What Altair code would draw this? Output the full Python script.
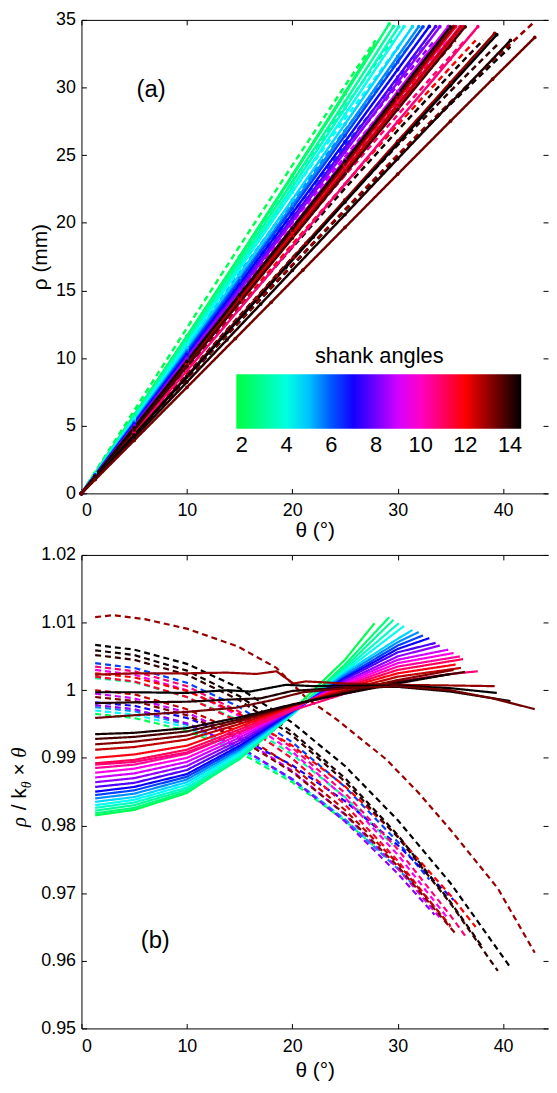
import altair as alt
import pandas as pd

# ---------------- data ----------------
# shank angle of every measured series (colour)
SHANK = [
    2.0, 3.0, 4.4, 5.5, 6.2, 7.0, 8.3, 9.0, 9.6, 10.8, 11.5, 12.0, 12.6, 13.2,
    14.5, 14.3, 14.0, 13.0,
    2.0, 2.5, 3.0, 3.6, 4.2, 4.8, 5.5, 6.2, 6.9, 7.6, 8.3, 9.0, 9.7, 10.4,
    10.8, 11.1, 11.8, 12.6, 13.2, 13.8, 14.3,
    13.0, 14.5, 14.2, 13.4,
]
# measurement kind of every series: "A" (solid curves), "B" (dashed curves)
KIND = ["B"] * 18 + ["A"] * 25
# fitted slope k_theta (mm / degree) of every series
K_THETA = [
    1.229, 1.162, 1.129, 1.095, 1.044, 0.979, 1.034, 1.014, 0.996, 0.955, 0.992, 0.928, 0.992, 0.979,
    0.846, 0.914, 0.877, 0.844,
    1.180, 1.176, 1.154, 1.135, 1.117, 1.089, 1.069, 1.056, 1.038, 1.020, 1.008, 0.986, 0.972, 0.956,
    0.915, 0.949, 0.968, 0.955, 0.974, 0.945, 0.983,
    0.867, 0.861, 0.824, 0.786,
]
# theta samples (degrees) of every series
THETA = [
    [1.3, 5, 10, 15, 20, 25, 27.9],
    [1.3, 5, 10, 15, 20, 25, 29.5],
    [1.3, 5, 10, 15, 20, 25, 30.5],
    [1.3, 5, 10, 15, 20, 25, 30, 31.5],
    [1.3, 5, 10, 15, 20, 25, 30, 33.0],
    [1.3, 5, 10, 15, 20, 25, 30, 35.3],
    [1.3, 5, 10, 15, 20, 25, 30, 33.5],
    [1.3, 5, 10, 15, 20, 25, 30, 34.2],
    [1.3, 5, 10, 15, 20, 25, 30, 34.8],
    [1.3, 5, 10, 15, 20, 25, 30, 35, 36.4],
    [1.3, 5, 10, 15, 20, 25, 30, 35.0],
    [1.3, 5, 10, 15, 20, 25, 30, 35, 37.4],
    [1.3, 5, 10, 15, 20, 25, 30, 35.0],
    [1.3, 5, 10, 15, 20, 25, 30, 35.5],
    [1.3, 5, 10, 15, 20, 25, 30, 35, 40.7],
    [1.3, 5, 10, 15, 20, 25, 30, 35, 38.1],
    [1.3, 5, 10, 15, 20, 25, 30, 35, 39.5],
    [1.3, 3, 6, 10, 14.8, 18.5, 21.3, 24.2, 28.9, 32, 35.2, 39.5, 43.0],
    [1.3, 5, 10, 15, 20, 25, 27.8],
    [1.3, 5, 10, 15, 20, 25, 29.2],
    [1.3, 5, 10, 15, 20, 25, 29.6],
    [1.3, 5, 10, 15, 20, 25, 30.1],
    [1.3, 5, 10, 15, 20, 25, 30.6],
    [1.3, 5, 10, 15, 20, 25, 30, 31.4],
    [1.3, 5, 10, 15, 20, 25, 30, 32.0],
    [1.3, 5, 10, 15, 20, 25, 30, 32.4],
    [1.3, 5, 10, 15, 20, 25, 30, 33.0],
    [1.3, 5, 10, 15, 20, 25, 30, 33.6],
    [1.3, 5, 10, 15, 20, 25, 30, 34.0],
    [1.3, 5, 10, 15, 20, 25, 30, 34.8],
    [1.3, 5, 10, 15, 20, 25, 30, 35.3],
    [1.3, 5, 10, 15, 20, 25, 30, 35.9],
    [1.3, 5, 10, 15, 20, 25, 30, 35, 37.6],
    [1.3, 5, 10, 15, 20, 25, 30, 36.2],
    [1.3, 5, 10, 15, 20, 25, 30, 35.5],
    [1.3, 5, 10, 15, 20, 25, 30, 36.0],
    [1.3, 5, 10, 15, 20, 25, 30, 35.3],
    [1.3, 5, 10, 15, 20, 25, 30, 36.4],
    [1.3, 5, 10, 15, 20, 25, 30, 35.0],
    [1.3, 5, 10, 13.8, 16.6, 18.5, 20.1, 21.3, 25, 30, 35, 39.2],
    [1.3, 5, 10, 13.8, 16, 19.4, 22, 25, 30, 35, 39.4],
    [1.3, 5, 10, 13.8, 17, 20, 25, 30, 35, 40.7],
    [1.3, 5, 10, 14.6, 18, 21, 25, 30, 35, 39, 43.0],
]
# rho / (k_theta * theta) at those samples
RATIO = [
    [0.9965, 0.9959, 0.9940, 0.9908, 0.9864, 0.9807, 0.9768],
    [1.0018, 1.0012, 0.9990, 0.9955, 0.9905, 0.9842, 0.9772],
    [0.9970, 0.9964, 0.9945, 0.9912, 0.9867, 0.9809, 0.9730],
    [0.9975, 0.9969, 0.9949, 0.9916, 0.9869, 0.9809, 0.9736, 0.9712],
    [1.0040, 1.0033, 1.0011, 0.9975, 0.9923, 0.9857, 0.9776, 0.9720],
    [0.9982, 0.9977, 0.9959, 0.9930, 0.9889, 0.9836, 0.9771, 0.9690],
    [0.9978, 0.9972, 0.9951, 0.9916, 0.9868, 0.9806, 0.9729, 0.9668],
    [0.9995, 0.9988, 0.9967, 0.9931, 0.9881, 0.9816, 0.9737, 0.9660],
    [1.0030, 1.0023, 1.0000, 0.9962, 0.9909, 0.9841, 0.9757, 0.9662],
    [1.0035, 1.0028, 1.0006, 0.9968, 0.9915, 0.9848, 0.9765, 0.9667, 0.9637],
    [1.0020, 1.0013, 0.9990, 0.9953, 0.9899, 0.9831, 0.9748, 0.9650],
    [1.0025, 1.0019, 0.9999, 0.9965, 0.9918, 0.9858, 0.9784, 0.9697, 0.9650],
    [1.0000, 0.9994, 0.9972, 0.9937, 0.9887, 0.9823, 0.9744, 0.9652],
    [0.9990, 0.9984, 0.9963, 0.9928, 0.9879, 0.9817, 0.9740, 0.9640],
    [1.0067, 1.0060, 1.0039, 1.0003, 0.9952, 0.9888, 0.9808, 0.9715, 0.9590],
    [1.0059, 1.0052, 1.0029, 0.9991, 0.9938, 0.9870, 0.9786, 0.9687, 0.9619],
    [1.0052, 1.0045, 1.0023, 0.9985, 0.9933, 0.9865, 0.9783, 0.9685, 0.9585],
    [1.0108, 1.0111, 1.0105, 1.0091, 1.0065, 1.0033, 0.9989, 0.9957, 0.9898, 0.9848, 0.9790, 0.9707, 0.9612],
    [0.9815, 0.9823, 0.9848, 0.9900, 0.9970, 1.0045, 1.0099],
    [0.9818, 0.9826, 0.9850, 0.9898, 0.9965, 1.0038, 1.0108],
    [0.9822, 0.9830, 0.9853, 0.9900, 0.9964, 1.0034, 1.0104],
    [0.9826, 0.9834, 0.9856, 0.9903, 0.9964, 1.0031, 1.0099],
    [0.9830, 0.9838, 0.9860, 0.9906, 0.9965, 1.0028, 1.0095],
    [0.9835, 0.9842, 0.9864, 0.9909, 0.9966, 1.0026, 1.0076, 1.0089],
    [0.9840, 0.9847, 0.9868, 0.9912, 0.9967, 1.0023, 1.0071, 1.0086],
    [0.9845, 0.9852, 0.9872, 0.9915, 0.9968, 1.0020, 1.0066, 1.0081],
    [0.9850, 0.9857, 0.9876, 0.9918, 0.9969, 1.0018, 1.0061, 1.0077],
    [0.9857, 0.9863, 0.9882, 0.9922, 0.9970, 1.0016, 1.0056, 1.0070],
    [0.9864, 0.9870, 0.9888, 0.9926, 0.9971, 1.0013, 1.0050, 1.0066],
    [0.9871, 0.9877, 0.9894, 0.9930, 0.9972, 1.0011, 1.0045, 1.0060],
    [0.9878, 0.9884, 0.9900, 0.9934, 0.9973, 1.0009, 1.0040, 1.0055],
    [0.9885, 0.9890, 0.9906, 0.9938, 0.9974, 1.0007, 1.0035, 1.0050],
    [0.9890, 0.9894, 0.9908, 0.9938, 0.9970, 0.9995, 1.0013, 1.0024, 1.0028],
    [0.9892, 0.9897, 0.9912, 0.9942, 0.9975, 1.0005, 1.0030, 1.0046],
    [0.9900, 0.9905, 0.9918, 0.9946, 0.9976, 1.0003, 1.0025, 1.0038],
    [0.9912, 0.9916, 0.9927, 0.9950, 0.9977, 1.0000, 1.0020, 1.0033],
    [0.9920, 0.9924, 0.9933, 0.9954, 0.9978, 0.9998, 1.0015, 1.0030],
    [0.9928, 0.9931, 0.9939, 0.9957, 0.9978, 0.9996, 1.0012, 1.0027],
    [0.9935, 0.9937, 0.9944, 0.9960, 0.9979, 0.9995, 1.0010, 1.0024],
    [1.0023, 1.0025, 1.0025, 1.0026, 1.0024, 1.0028, 1.0010, 1.0013, 1.0010, 1.0008, 1.0007, 1.0006],
    [0.9997, 0.9997, 0.9996, 1.0000, 0.9998, 1.0008, 1.0006, 1.0007, 1.0007, 1.0003, 0.9996],
    [0.9981, 0.9982, 0.9983, 0.9986, 0.9988, 0.9999, 1.0004, 1.0005, 0.9998, 0.9984],
    [0.9959, 0.9963, 0.9968, 0.9974, 0.9985, 0.9997, 1.0003, 1.0006, 1.0000, 0.9988, 0.9972],
]

X_TICKS = [0, 10, 20, 30, 40]
Y_TOP_TICKS = [0, 5, 10, 15, 20, 25, 30, 35]
Y_BOT_TICKS = [0.95, 0.96, 0.97, 0.98, 0.99, 1.0, 1.01, 1.02]
LEGEND_VALUES = [2, 4, 6, 8, 10, 12, 14]
CMAP_STOPS = [1.75, 4.42, 6.81, 9.44, 11.97, 14.5]
CMAP_COLORS = ["#00ff40", "#00ffff", "#0000ff", "#ff00ff", "#ff0000", "#000000"]
PANEL_LABELS_TOP = {"theta": [6.6], "rho": [29.8], "txt": ["(a)"]}
PANEL_LABELS_BOT = {"theta": [7.0], "ratio": [0.9629], "txt": ["(b)"]}

# ---------------- tables ----------------
rows_top, rows_bot = [], []
for i in range(len(SHANK)):
    sid = f"s{i:02d}"
    rows_top.append(dict(sid=sid, shank=SHANK[i], kind=KIND[i], theta=0.0, rho=0.0))
    for t, r in zip(THETA[i], RATIO[i]):
        rows_bot.append(dict(sid=sid, shank=SHANK[i], kind=KIND[i], theta=t, ratio=r))
        rows_top.append(dict(sid=sid, shank=SHANK[i], kind=KIND[i], theta=t, rho=K_THETA[i] * t * r))
df_top = pd.DataFrame(rows_top)
df_bot = pd.DataFrame(rows_bot)

# ---------------- layout ----------------
W, H = 470, 477
FONT = "Liberation Sans"
SERIF = "Liberation Serif"
xscale = alt.Scale(domain=[0, 44.26], nice=False, zero=False)
ytop_scale = alt.Scale(domain=[0, 35], nice=False)
ybot_scale = alt.Scale(domain=[0.95, 1.02], nice=False, zero=False)
cscale = alt.Scale(domain=CMAP_STOPS, range=CMAP_COLORS, interpolate="rgb")
dash = alt.StrokeDash("kind:N", scale=alt.Scale(domain=["A", "B"], range=[[1, 0], [6, 4]]), legend=None)

legend = alt.Legend(
    type="gradient", title="shank angles", orient="none", legendX=156, legendY=329, direction="horizontal",
    gradientLength=287, gradientThickness=55, values=LEGEND_VALUES, labelFontSize=22,
    titleFontSize=22, titleFontWeight="normal", titleAnchor="middle", labelColor="black",
    titleColor="black", gradientStrokeWidth=0, labelOffset=6, titlePadding=6, padding=0,
    labelFont=FONT, titleFont=FONT, labelOverlap=False,
)


def tick_layers(data, yfield, yscale, yvals):
    base = alt.Chart(data).mark_point(opacity=0)
    inner_a = base.encode(
        x=alt.X("theta:Q", scale=xscale, axis=alt.Axis(orient="top", offset=-H, values=X_TICKS, labels=False,
                                                      domain=False, tickSize=5, title=None)),
        y=alt.Y(yfield, scale=yscale, axis=alt.Axis(orient="right", offset=-W, values=yvals, labels=False,
                                                   domain=False, tickSize=5, title=None)),
    )
    inner_b = base.encode(
        x=alt.X("theta:Q", scale=xscale, axis=alt.Axis(orient="bottom", offset=-H, values=X_TICKS, labels=False,
                                                      domain=True, tickSize=5, title=None)),
        y=alt.Y(yfield, scale=yscale, axis=alt.Axis(orient="left", offset=-W, values=yvals, labels=False,
                                                   domain=False, tickSize=5, title=None)),
    )
    return [inner_a, inner_b]


def x_axis(label_pad, title_pad):
    return alt.X("theta:Q", scale=xscale,
                 axis=alt.Axis(orient="bottom", values=X_TICKS, ticks=False, labelPadding=label_pad,
                               title="θ (°)", titlePadding=title_pad, format="d"))


# ---------------- top panel ----------------
top_lines = alt.Chart(df_top).mark_line(strokeWidth=2.5, clip=True).encode(
    x=x_axis(8, 0),
    y=alt.Y("rho:Q", scale=ytop_scale,
            axis=alt.Axis(orient="left", values=Y_TOP_TICKS, ticks=False, labelPadding=6,
                          title="ρ (mm)", titlePadding=5)),
    color=alt.Color("shank:Q", scale=cscale, legend=legend),
    strokeDash=dash,
    detail="sid:N",
)
top_pts = alt.Chart(df_top).transform_filter(alt.datum.kind == "A").mark_circle(size=14, opacity=1).encode(
    x=alt.X("theta:Q", scale=xscale, axis=None),
    y=alt.Y("rho:Q", scale=ytop_scale, axis=None),
    fill=alt.Fill("shank:Q", scale=cscale, legend=None),
)
top_lab = alt.Chart(pd.DataFrame(PANEL_LABELS_TOP)).mark_text(font=FONT, fontSize=24, color="black").encode(
    x=alt.X("theta:Q", scale=xscale, axis=None), y=alt.Y("rho:Q", scale=ytop_scale, axis=None), text="txt:N")
top = alt.layer(top_lines, top_pts, top_lab, *tick_layers(df_top, "rho:Q", ytop_scale, Y_TOP_TICKS)).resolve_axis(
    x="independent", y="independent").properties(width=W, height=H)

# ---------------- bottom panel ----------------
bot_lines = alt.Chart(df_bot).mark_line(strokeWidth=2.2, clip=True).encode(
    x=x_axis(9, 4),
    y=alt.Y("ratio:Q", scale=ybot_scale,
            axis=alt.Axis(orient="left", values=Y_BOT_TICKS, ticks=False, labelPadding=6,
                          title=None, format="~g")),
    color=alt.Color("shank:Q", scale=cscale, legend=None),
    strokeDash=dash,
    detail="sid:N",
)
bot_lab = alt.Chart(pd.DataFrame(PANEL_LABELS_BOT)).mark_text(font=FONT, fontSize=24, color="black").encode(
    x=alt.X("theta:Q", scale=xscale, axis=None), y=alt.Y("ratio:Q", scale=ybot_scale, axis=None), text="txt:N")

one = pd.DataFrame({"a": [0]})
def title_piece(txt, xpx, ypx, size, italic, font):
    return alt.Chart(one).mark_text(text=txt, angle=270, align="left", baseline="alphabetic",
                                    fontSize=size, font=font, color="black",
                                    fontStyle="italic" if italic else "normal").encode(
        x=alt.value(xpx), y=alt.value(ypx))

Y0 = 274
ytitle = [
    title_piece("ρ", -56, Y0, 21, True, SERIF),
    title_piece("/", -56, Y0 - 16.8, 21, False, FONT),
    title_piece("k", -56, Y0 - 28.4, 21, False, FONT),
    title_piece("θ", -51, Y0 - 38.9, 14, True, SERIF),
    title_piece("×", -56, Y0 - 51.7, 21, False, FONT),
    title_piece("θ", -56, Y0 - 69.8, 21, True, SERIF),
]
bottom = alt.layer(bot_lines, bot_lab, *ytitle, *tick_layers(df_bot, "ratio:Q", ybot_scale, Y_BOT_TICKS)).resolve_axis(
    x="independent", y="independent").properties(width=W, height=H)

chart = alt.vconcat(top, bottom, spacing=62, bounds="flush").resolve_scale(color="independent").resolve_legend(
    color="independent").properties(padding={"left": 0, "right": 0, "top": -1, "bottom": 0}).configure_view(
    stroke=None).configure_axis(
    labelFont=FONT, labelFontSize=18, labelColor="black", titleFont=FONT, titleFontSize=21,
    titleColor="black", titleFontWeight="normal", domainColor="black", tickColor="black",
    domainWidth=1, tickWidth=1, grid=False)

chart.save("out.html", embed_options={"renderer": "svg", "actions": False})
